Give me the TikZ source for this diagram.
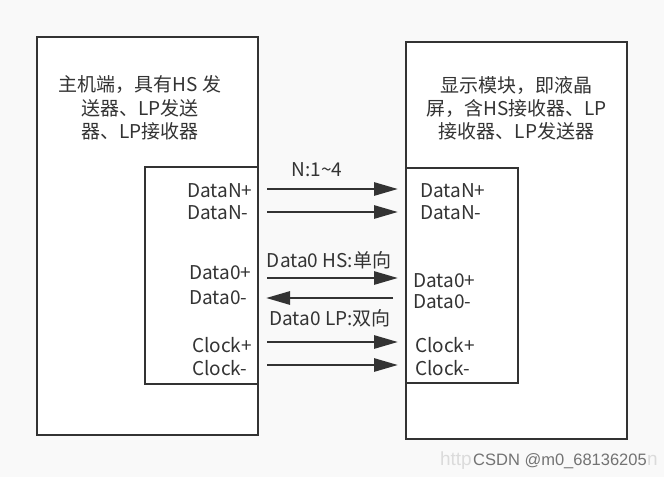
\documentclass[tikz,border=0pt]{standalone}
\usepackage{fontspec}
\setmainfont{Noto Sans CJK SC}
\newfontfamily\wmfont{Liberation Sans}
\usetikzlibrary{arrows.meta}
\definecolor{ink}{HTML}{333333}
\definecolor{bgc}{HTML}{F9F9F9}
\begin{document}
\begin{tikzpicture}[x=1pt,y=-1pt,
  box/.style={draw=ink,line width=2.8pt,fill=white},
  lbl/.style={inner sep=0pt,text=ink,font=\fontsize{19}{23}\selectfont},
  sig/.style={draw=ink,line width=2.8pt,-{Triangle[length=24pt,width=13pt]}},
  wmfaint/.style={inner sep=0pt,text=black!14,font=\wmfont\fontsize{19}{22}\selectfont}]
\fill[bgc] (0,0) rectangle (664,477);
\useasboundingbox (0,0) rectangle (664,477);
% boxes
\draw[box] (37,37) rectangle (258,435);
\draw[box] (145,167) rectangle (258,384);
\draw[box] (406,42) rectangle (627,439);
\draw[box] (406,168) rectangle (518,383);
% Chinese descriptions
\node[lbl,anchor=base] (h1) at (140,91) {主机端，具有HS 发};
\node[lbl,anchor=base] (h2) at (140,115) {送器、LP发送};
\node[lbl,anchor=base] (h3) at (140,138.5) {器、LP接收器};
\node[lbl,anchor=base] (d1) at (516.5,92) {显示模块，即液晶};
\node[lbl,anchor=base] (d2) at (516.5,115.5) {屏，含HS接收器、LP};
\node[lbl,anchor=base] (d3) at (516.5,138.5) {接收器、LP发送器};
% left pins
\node[lbl,anchor=base west] (lDp) at (187,197) {DataN+};
\node[lbl,anchor=base west] (lDm) at (187,219) {DataN-};
\node[lbl,anchor=base west] (l0p) at (189,279) {Data0+};
\node[lbl,anchor=base west] (l0m) at (189,304) {Data0-};
\node[lbl,anchor=base west] (lCp) at (192,352) {Clock+};
\node[lbl,anchor=base west] (lCm) at (192,375) {Clock-};
% right pins
\node[lbl,anchor=base west] (rDp) at (420,197) {DataN+};
\node[lbl,anchor=base west] (rDm) at (420,219) {DataN-};
\node[lbl,anchor=base west] (r0p) at (413,287) {Data0+};
\node[lbl,anchor=base west] (r0m) at (413,308) {Data0-};
\node[lbl,anchor=base west] (rCp) at (415,352) {Clock+};
\node[lbl,anchor=base west] (rCm) at (415,375) {Clock-};
% link labels
\node[lbl,anchor=base] (nl) at (317,176) {N:1\textasciitilde4};
\node[lbl,anchor=base] (hs) at (329,267) {Data0 HS:单向};
\node[lbl,anchor=base] (lp) at (330,325) {Data0 LP:双向};
% arrow end points
\coordinate (a1) at (267,189); \coordinate (b1) at (398,189);
\coordinate (a2) at (267,212); \coordinate (b2) at (398,212);
\coordinate (a3) at (267,278); \coordinate (b3) at (398,278);
\coordinate (a4) at (266,298); \coordinate (b4) at (393,298);
\coordinate (a5) at (267,342); \coordinate (b5) at (398,342);
\coordinate (a6) at (267,365); \coordinate (b6) at (398,365);
\draw[sig] (a1) -- (b1);
\draw[sig] (a2) -- (b2);
\draw[sig] (a3) -- (b3);
\draw[sig] (b4) -- (a4);
\draw[sig] (a5) -- (b5);
\draw[sig] (a6) -- (b6);
% watermark
\node[wmfaint,anchor=base east] (wm1) at (472,465) {http};
\node[wmfaint,anchor=base west] (wm3) at (647,465) {n};
\node[inner sep=0pt,anchor=base west,text=black!55,font=\wmfont\fontsize{16.5}{20}\selectfont] (wm2) at (473,465) {CSDN @m0\_68136205};
\end{tikzpicture}
\end{document}
